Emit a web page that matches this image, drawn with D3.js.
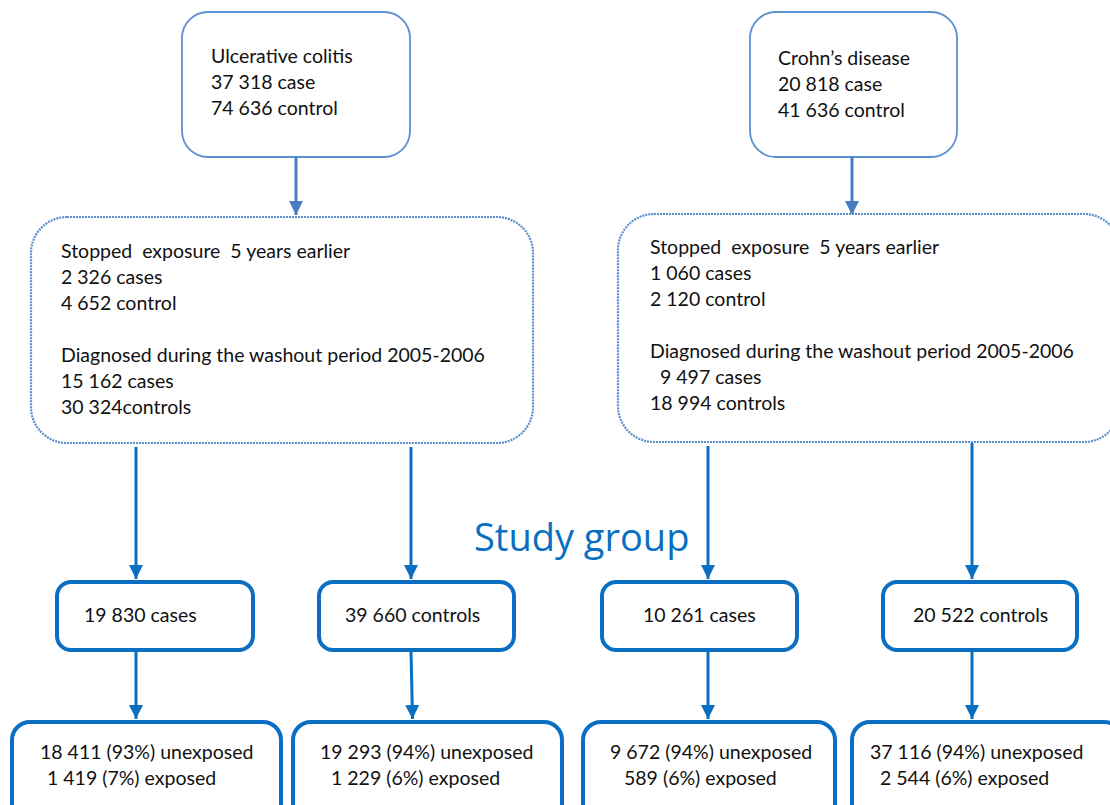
<!DOCTYPE html>
<html><head><meta charset="utf-8">
<script src="https://cdn.jsdelivr.net/npm/d3@7"></script>
<style>body{margin:0;background:#fff}svg{display:block}text{font-family:Lato,"Open Sans",sans-serif;fill:#111;white-space:pre}</style>
</head><body>
<script>
// ---- data ----
const diseases = ["Ulcerative colitis", "Crohn\u2019s disease"];
const totalCases = ["37 318", "20 818"];
const totalControls = ["74 636", "41 636"];
const stoppedCases = ["2 326", "1 060"];
const stoppedControls = ["4 652", "2 120"];
const washoutCases = ["15 162", "9 497"];
const washoutControls = ["30 324", "18 994"];
const groupLabels = ["19 830 cases", "39 660 controls", "10 261 cases", "20 522 controls"];
const unexposed = ["18 411 (93%) unexposed", "19 293 (94%) unexposed", "9 672 (94%) unexposed", "37 116 (94%) unexposed"];
const exposed = ["1 419 (7%) exposed", "1 229 (6%) exposed", "589 (6%) exposed", "2 544 (6%) exposed"];
const studyLabel = "Study group";

// ---- layout ----
const W = 1110, H = 805;
const svg = d3.select("body").append("svg").attr("width", W).attr("height", H);
const light = "#5b8fd0", dark = "#0a6fc2", arrowTop = "#4a7dbf";
const fs = 19.5, lh = 26;

const defs = svg.append("defs");
function marker(id, color, w, h) {
  defs.append("marker").attr("id", id).attr("viewBox", "0 0 10 10").attr("refX", 10).attr("refY", 5)
    .attr("markerUnits", "userSpaceOnUse").attr("markerWidth", w).attr("markerHeight", h).attr("orient", "auto")
    .append("path").attr("d", "M0,0L10,5L0,10Z").attr("fill", color);
}
marker("ah1", arrowTop, 14, 16);
marker("ah2", dark, 14, 17);

function box(x0, y0, x1, y1, rx, color, sw, dash) {
  svg.append("rect").attr("x", x0).attr("y", y0).attr("width", x1 - x0).attr("height", y1 - y0)
    .attr("rx", rx).attr("ry", rx).attr("fill", "#fff").attr("stroke", color).attr("stroke-width", sw)
    .attr("stroke-dasharray", dash || null);
}
function lines(x, y0, arr) {
  const t = svg.append("text").attr("font-size", fs).attr("xml:space", "preserve");
  arr.forEach((s, i) => { if (s !== null) t.append("tspan").attr("x", x).attr("y", y0 + i * lh).text(s); });
}
function arrow(x0, y0, x1, y1, color, sw, m) {
  svg.append("line").attr("x1", x0).attr("y1", y0).attr("x2", x1).attr("y2", y1)
    .attr("stroke", color).attr("stroke-width", sw).attr("marker-end", `url(#${m})`);
}

// top boxes
const topBoxes = [{x0: 182, x1: 410, tx: 211, ty: 63, ax: 296}, {x0: 750, x1: 957, tx: 778, ty: 65, ax: 852}];
topBoxes.forEach((b, i) => {
  box(b.x0, 12, b.x1, 157, 26, light, 1.8);
  lines(b.tx, b.ty, [diseases[i], totalCases[i] + " case", totalControls[i] + " contro\u006c"]);
  arrow(b.ax, 157, b.ax, 215, arrowTop, 3, "ah1");
});

// middle boxes
const midBoxes = [{x0: 31, x1: 533, y0: 217, y1: 443, tx: 61, ty: 258}, {x0: 618, x1: 1120, y0: 214, y1: 442, tx: 650, ty: 254}];
midBoxes.forEach((b, i) => {
  box(b.x0, b.y0, b.x1, b.y1, 36, light, 2.2, "2,1");
  lines(b.tx, b.ty, ["Stopped  exposure  5 years earlier",
    stoppedCases[i] + " cases", stoppedControls[i] + " control", null,
    "Diagnosed during the washout period 2005-2006",
    (i === 1 ? "  " : "") + washoutCases[i] + " cases",
    washoutControls[i] + (i === 0 ? "controls" : " controls")]);
});

// study group label
svg.append("text").attr("x", 474).attr("y", 551).attr("font-size", 38).style("fill", dark)
  .style("font-family", "'Open Sans',Lato,sans-serif").text(studyLabel);

// group boxes
const cols = [{ax: 136, bx0: 57, bx1: 253, tx: 84, ex0: 12, ex1: 281, ux: 40, xx: 47, top: 447},
              {ax: 411, bx0: 319, bx1: 514, tx: 345, ex0: 293, ex1: 562, ux: 320, xx: 331, top: 447},
              {ax: 708, bx0: 602, bx1: 797, tx: 643, ex0: 583, ex1: 835, ux: 610, xx: 624, top: 446},
              {ax: 972, bx0: 883, bx1: 1077, tx: 913, ex0: 852, ex1: 1122, ux: 870, xx: 880, top: 443}];
cols.forEach((c, i) => {
  arrow(c.ax, c.top, c.ax, 579, dark, 3, "ah2");
  box(c.bx0, 582, c.bx1, 650, 14, dark, 4);
  svg.append("text").attr("x", c.tx).attr("y", 622).attr("font-size", fs).text(groupLabels[i]);
  arrow(c.ax, 651, i === 1 ? c.ax + 1.5 : c.ax, 719, dark, 3, "ah2");
  box(c.ex0, 722, c.ex1, 830, 18, dark, 4);
  lines(c.ux, 759, [unexposed[i], null]);
  lines(c.xx, 785, [exposed[i]]);
});
</script>
</body></html>
